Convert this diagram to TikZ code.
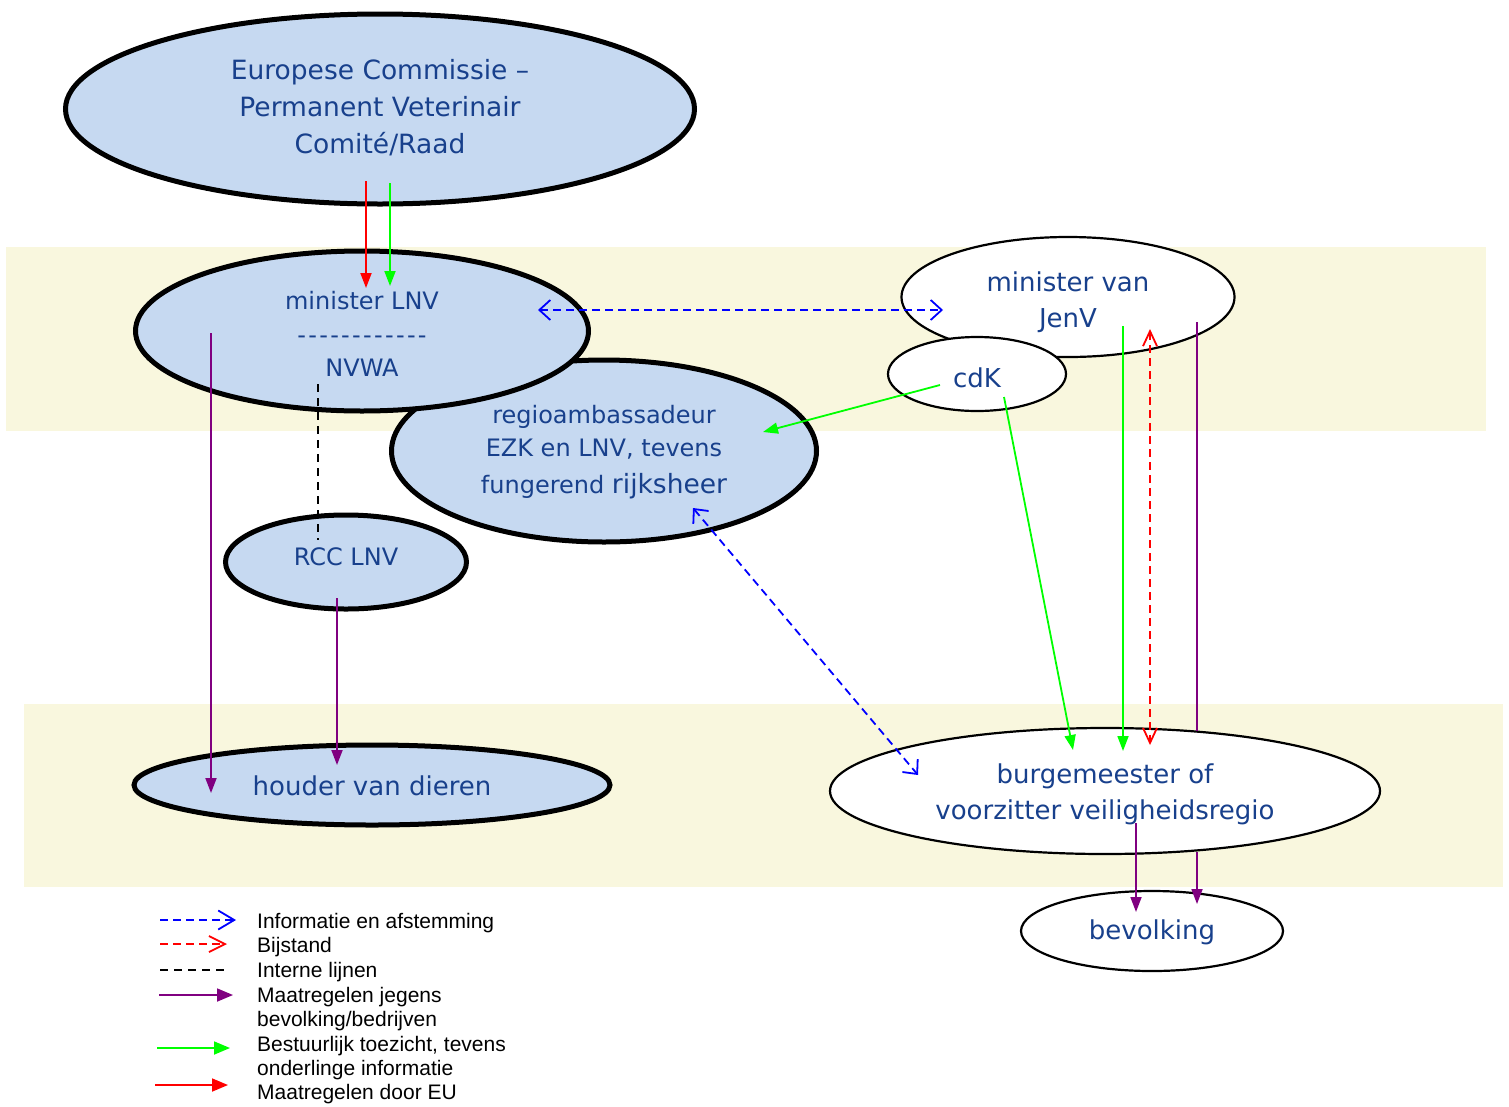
\documentclass[tikz,border=0pt]{standalone}
\usepackage{fontspec}
\newfontfamily\vfont{DejaVu Sans}
\newfontfamily\afont{Liberation Sans}
\usetikzlibrary{shapes.geometric,arrows.meta,calc}
\definecolor{boxblue}{RGB}{198,217,241}
\definecolor{bandcol}{RGB}{249,247,222}
\definecolor{txtblue}{RGB}{24,64,140}
\definecolor{purp}{RGB}{128,0,128}
\definecolor{grn}{RGB}{0,255,0}
\definecolor{rd}{RGB}{255,0,0}
\definecolor{bl}{RGB}{0,0,255}
\begin{document}
\begin{tikzpicture}[x=1pt,y=-1pt,
  bigell/.style={ellipse, draw, line width=5pt, fill=boxblue, inner sep=0pt},
  thinell/.style={ellipse, draw, line width=2.2pt, fill=white, inner sep=0pt},
  txt/.style={inner sep=0pt, text=txtblue, align=center},
  fA/.style={font=\vfont\fontsize{26.5}{37}\selectfont},
  fB/.style={font=\vfont\fontsize{24}{33.5}\selectfont},
  fC/.style={font=\vfont\fontsize{26}{36.5}\selectfont},
  solidarr/.style={line width=1.8pt, -{Triangle[length=15pt,width=11pt]}},
  openboth/.style={line width=1.8pt, dash pattern=on 8pt off 5pt,
     {Straight Barb[length=11pt,width=20pt]}-{Straight Barb[length=11pt,width=20pt]}},
  openbothr/.style={line width=1.8pt, dash pattern=on 8pt off 5pt,
     {Straight Barb[length=15pt,width=14pt]}-{Straight Barb[length=15pt,width=14pt]}},
  legtxt/.style={anchor=base west, inner sep=0pt, font=\afont\fontsize{21}{24.5}\selectfont}
]
% canvas
\path[use as bounding box, fill=white] (0,0) rectangle (1509,1106);
% bands
\fill[bandcol] (6,247) rectangle (1486,431);
\fill[bandcol] (24,704) rectangle (1503,887);

% blue ellipses
\node[bigell, minimum width=629pt, minimum height=190pt] (ec) at (380,109) {};
\node[bigell, minimum width=425pt, minimum height=182pt] (regio) at (604,451) {};
\node[bigell, minimum width=453pt, minimum height=160pt] (lnv) at (362,331) {};
\node[bigell, minimum width=241pt, minimum height=94pt] (rcc) at (346,562) {};
\node[bigell, minimum width=476pt, minimum height=80pt] (houder) at (372,785) {};

% white ellipses
\node[thinell, minimum width=333pt, minimum height=120pt] (jenv) at (1068,297) {};
\node[thinell, minimum width=178pt, minimum height=74pt] (cdk) at (977,374) {};
\node[thinell, minimum width=550pt, minimum height=126pt] (burg) at (1105,791) {};
\node[thinell, minimum width=262pt, minimum height=80pt] (bev) at (1152,931) {};

% texts
\node[txt, fA] (ect) at ($(ec)+(0,-1)$) {Europese Commissie –\\Permanent Veterinair\\Comité/Raad};
\node[txt, fB] (regiot) at ($(regio)+(0,1)$)
  {regioambassadeur\\EZK en LNV, tevens\\[3pt]fungerend {\fontsize{26.5}{33.5}\selectfont rijksheer}};
\node[txt, fB] (lnvt) at ($(lnv)+(0,3)$)
  {minister LNV\\-\kern2.3pt-\kern2.3pt-\kern2.3pt-\kern2.3pt-\kern2.3pt-\kern2.3pt-\kern2.3pt-\kern2.3pt-\kern2.3pt-\kern2.3pt-\kern2.3pt-\\NVWA};
\node[txt, fB] (rcct) at ($(rcc)+(0,-5)$) {RCC LNV};
\node[txt, fC] (houdert) at ($(houder)+(0,1)$) {houder van dieren};
\node[txt, fC] (jenvt) at ($(jenv)+(0,5)$) {minister van\\JenV};
\node[txt, fC] (cdkt) at ($(cdk)+(0,4)$) {cdK};
\node[txt, fC] (burgt) at ($(burg)+(0,3.5)$) {burgemeester of\\voorzitter veiligheidsregio};
\node[txt, fC] (bevt) at ($(bev)+(0,1)$) {bevolking};

% connectors
\draw[solidarr, rd] ($(ec)+(-14,72)$) -- ($(lnv)+(4,-43)$);
\draw[solidarr, grn] ($(ec)+(10,74)$) -- ($(lnv)+(28,-45)$);
\draw[openboth, bl] ($(lnv)+(176,-21)$) -- ($(jenv)+(-125,13)$);
\draw[line width=1.6pt, dash pattern=on 8pt off 6pt] ($(lnv)+(-44,53)$) -- ($(rcc)+(-28,-22)$);
\draw[solidarr, purp] ($(lnv)+(-151,2)$) -- ($(houder)+(-161,8)$);
\draw[solidarr, purp] ($(rcc)+(-9,36)$) -- ($(houder)+(-35,-20)$);
\draw[solidarr, grn] ($(cdk)+(-37,11)$) -- ($(regio)+(159,-19)$);
\draw[solidarr, grn] ($(cdk)+(27,23)$) -- ($(burg)+(-32,-41)$);
\draw[solidarr, grn] ($(jenv)+(55,29)$) -- ($(burg)+(18,-40)$);
\draw[openbothr, rd] ($(jenv)+(82,32)$) -- ($(burg)+(45,-46)$);
\draw[line width=1.8pt, purp] ($(jenv)+(129,25)$) -- ($(burg)+(92,-60)$);
\draw[solidarr, purp] ($(burg)+(92,61)$) -- ($(bev)+(45,-27)$);
\draw[solidarr, purp] ($(burg)+(31,32)$) -- ($(bev)+(-16,-19)$);
\draw[openboth, bl] ($(regio)+(89,57)$) -- ($(burg)+(-187,-16)$);

% legend
\node[legtxt] (l1) at (257,928) {Informatie en afstemming};
\node[legtxt] (l2) at (257,952) {Bijstand};
\node[legtxt] (l3) at (257,977) {Interne lijnen};
\node[legtxt] (l4) at (257,1002) {Maatregelen jegens};
\node[legtxt] (l4b) at (257,1026) {bevolking/bedrijven};
\node[legtxt] (l5) at (257,1051) {Bestuurlijk toezicht, tevens};
\node[legtxt] (l5b) at (257,1075) {onderlinge informatie};
\node[legtxt] (l6) at (257,1099) {Maatregelen door EU};

\coordinate (a1) at (160,920); \coordinate (b1) at (236,920);
\coordinate (a2) at (160,944); \coordinate (b2) at (227,944);
\coordinate (a3) at (160,970); \coordinate (b3) at (227,970);
\coordinate (a4) at (159,995); \coordinate (b4) at (233,995);
\coordinate (a5) at (157,1048); \coordinate (b5) at (230,1048);
\coordinate (a6) at (155,1085); \coordinate (b6) at (228,1085);
\draw[line width=1.8pt, bl, dash pattern=on 8pt off 5pt, -{Straight Barb[length=16pt,width=19pt]}] (a1) -- (b1);
\draw[line width=1.8pt, rd, dash pattern=on 8pt off 5pt, -{Straight Barb[length=16pt,width=16pt]}] (a2) -- (b2);
\draw[line width=1.6pt, dash pattern=on 8pt off 6pt] (a3) -- (b3);
\draw[line width=1.8pt, purp, -{Triangle[length=16pt,width=13pt]}] (a4) -- (b4);
\draw[line width=1.8pt, grn, -{Triangle[length=16pt,width=13pt]}] (a5) -- (b5);
\draw[line width=1.8pt, rd, -{Triangle[length=16pt,width=13pt]}] (a6) -- (b6);
\end{tikzpicture}
\end{document}
